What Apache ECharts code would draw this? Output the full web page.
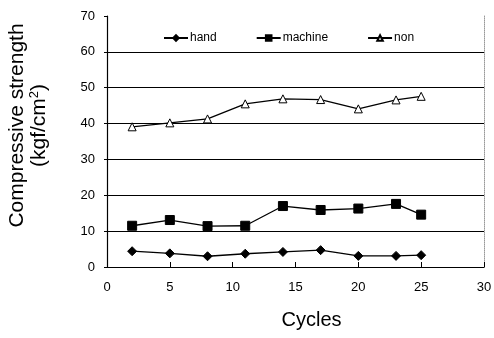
<!DOCTYPE html>
<html>
<head>
<meta charset="utf-8">
<script src="https://cdn.jsdelivr.net/npm/echarts@6/dist/echarts.min.js"></script>
<style>
  html, body { margin: 0; padding: 0; background: #fff; }
  #chart { width: 494px; height: 338px; }
</style>
</head>
<body>
<div id="chart"></div>
<script>
// cycles where each test was taken
const cycles = [2, 5, 8, 11, 14, 17, 20, 23, 25];
const hand = [4.4, 3.8, 3.0, 3.7, 4.2, 4.7, 3.1, 3.1, 3.3];
const machine = [11.5, 13.1, 11.4, 11.5, 17.0, 15.9, 16.3, 17.6, 14.6];
const non = [39.1, 40.2, 41.3, 45.5, 46.9, 46.7, 44.1, 46.6, 47.6];

const font = 'Liberation Sans Narrow, Arial Narrow, Liberation Sans, sans-serif';
const titleFont = 'Liberation Sans, Arial, sans-serif';

const pairs = vals => cycles.map((c, i) => [c, vals[i]]);

const chart = echarts.init(document.getElementById('chart'), null, { renderer: 'canvas' });

const lineSeries = (name, vals, symbol, size, fill) => ({
  name: name,
  type: 'line',
  yAxisIndex: 0,
  data: pairs(vals),
  symbol: symbol,
  symbolSize: size,
  showSymbol: true,
  itemStyle: { color: fill, borderColor: '#000', borderWidth: 1 },
  lineStyle: { color: '#000', width: 1.3 },
  animation: false
});

// no gridline at the top (70)
const gridColors = ['#000', '#000', '#000', '#000', '#000', '#000', '#000', 'rgba(0,0,0,0)'];

chart.setOption({
  backgroundColor: '#fff',
  grid: { left: 107, right: 10, top: 16, bottom: 71, outerBoundsMode: 'none' },
  legend: {
    top: 27,
    left: 158,
    itemGap: 39,
    itemWidth: 24,
    itemHeight: 7,
    textStyle: { fontFamily: font, fontSize: 12, color: '#000', padding: [0, 0, 0, -3] },
    data: ['hand', 'machine', 'non']
  },
  xAxis: {
    type: 'value',
    min: 0,
    max: 30,
    interval: 5,
    name: 'Cycles',
    nameLocation: 'middle',
    nameGap: 43,
    nameTextStyle: { fontFamily: titleFont, fontSize: 20, color: '#000', padding: [0, 0, 0, 32] },
    axisLine: { lineStyle: { color: '#000', width: 1.2 } },
    axisTick: { inside: true, length: 5, lineStyle: { color: '#000' } },
    axisLabel: { fontFamily: font, fontSize: 13, color: '#000', margin: 14 },
    splitLine: { show: false }
  },
  yAxis: [{
    type: 'value',
    min: 0,
    max: 70,
    interval: 10,
    name: '{a|Compressive strength}\n{a|(kgf/cm}{s|2}{a|)}',
    nameLocation: 'middle',
    nameRotate: 90,
    nameGap: 57,
    nameTextStyle: {
      padding: [0, 0, 0, 32],
      rich: {
        a: { fontFamily: titleFont, fontSize: 21, color: '#000', lineHeight: 22 },
        s: { fontFamily: titleFont, fontSize: 13, color: '#000', verticalAlign: 'top', lineHeight: 22 }
      }
    },
    axisLine: { show: true, lineStyle: { color: '#000', width: 1.2 } },
    axisTick: { show: true, length: 3, lineStyle: { color: '#000' } },
    axisLabel: { fontFamily: font, fontSize: 13, color: '#000', margin: 12 },
    splitLine: { show: true, lineStyle: { color: gridColors, width: 1 } }
  }, {
    type: 'value',
    min: 0,
    max: 70,
    position: 'right',
    axisLine: { show: true, lineStyle: { color: '#999', type: 'dotted', width: 1 } },
    axisTick: { show: false },
    axisLabel: { show: false },
    splitLine: { show: false }
  }],
  series: [
    lineSeries('hand', hand, 'diamond', 9, '#000'),
    lineSeries('machine', machine, 'rect', 9, '#000'),
    lineSeries('non', non, 'triangle', 8, '#fff')
  ]
});
</script>
</body>
</html>
